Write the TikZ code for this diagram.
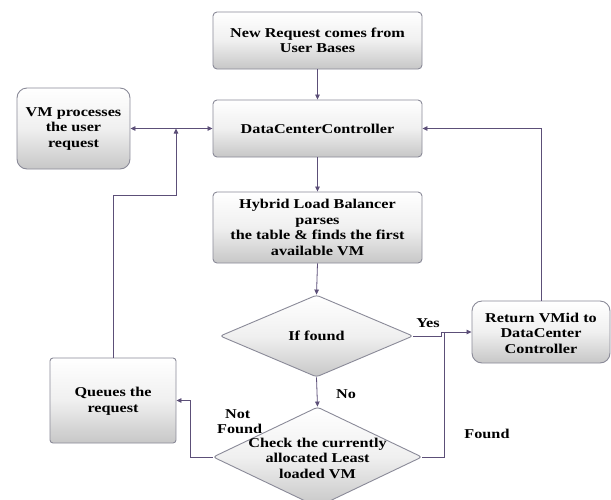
\documentclass[tikz,border=0pt]{standalone}
\usepackage{fontspec}
\setmainfont{Liberation Serif}[FakeStretch=1.2]
\usetikzlibrary{shapes.geometric,arrows.meta}
\definecolor{linec}{HTML}{5C4F78}
\definecolor{edgec}{HTML}{8A8A98}
\tikzset{
  boxfill/.style={top color=white, bottom color=black!22, middle color=black!6, draw=edgec, line width=0.9pt},
  procbox/.style={boxfill, rounded corners=4pt, minimum width=209pt, inner sep=0pt},
  roundbox/.style={boxfill, rounded corners=10pt, inner sep=0pt},
  decbox/.style={boxfill, diamond, rounded corners=3pt, inner sep=0pt},
  txt/.style={font=\fontsize{13.5}{15.5}\selectfont\bfseries, align=center, inner sep=0pt, text=black},
  arr/.style={draw=linec, line width=0.8pt, -{Triangle[length=5pt,width=4.5pt]}},
  ln/.style={draw=linec, line width=0.8pt},
  lbl/.style={font=\fontsize{13.5}{15.5}\selectfont\bfseries, inner sep=0pt, text=black}
}
\begin{document}
\begin{tikzpicture}[x=1pt,y=-1pt]
\clip (0,0) rectangle (611,499);
\fill[white] (0,0) rectangle (611,499);
% boxes
\node[procbox, minimum height=57pt] (nr) at (317.5,40.5) {};
\node[txt] (nrt) at (nr) {New Request comes from\\User Bases};
\node[procbox, minimum height=57pt] (dcc) at (317.5,128.5) {};
\node[txt] (dcct) at (dcc) {DataCenterController};
\node[roundbox, minimum width=113pt, minimum height=81pt] (vm) at (73.5,128.5) {};
\node[txt] (vmt) at (73.5,129) {VM processes\\the user\\request};
\node[procbox, minimum height=71pt] (hlb) at (317.5,227.5) {};
\node[txt] (hlbt) at (hlb) {Hybrid Load Balancer\\parses\\the table \& finds the first\\available VM};
\node[decbox, minimum width=193pt, minimum height=82pt] (ifd) at (316.5,336) {};
\node[txt] (ifdt) at (ifd) {If found};
\node[decbox, minimum width=209pt, minimum height=100pt] (chk) at (317.5,457) {};
\node[txt] (chkt) at (317.5,458) {Check the currently\\allocated Least\\loaded VM};
\node[boxfill, rounded corners=3pt, minimum width=126pt, minimum height=85pt, inner sep=0pt] (q) at (113,400.5) {};
\node[txt] (qt) at (113,401) {Queues the\\request};
\node[roundbox, minimum width=138pt, minimum height=62pt] (ret) at (541,332) {};
\node[txt] (rett) at (541,333) {Return VMid to\\DataCenter\\Controller};
% junction coordinates
\coordinate (j) at (176,128.5);
\coordinate (qb) at (176,195);
\coordinate (yj) at (441,332);
\coordinate (fj) at (444,332);
% connectors
\draw[arr] (nr.south) -- (dcc.north);
\draw[arr] (dcc.south) -- (hlb.north);
\draw[arr] (hlb.south) -- (ifd.north);
\draw[arr] (ifd.south) -- (chk.north);
\draw[arr] (q.north) |- (qb) -- (j);
\draw[arr] (j) -- (vm.east);
\draw[arr] (j) -- (dcc.west);
\draw[arr] (ret.north) |- (dcc.east);
\draw[ln] (ifd.east) -| (yj);
\draw[arr] (yj) -- (ret.west);
\draw[ln] (chk.east) -| (fj);
\draw[arr] (chk.west) -- ++(-22,0) |- (q.east);
% labels
\node[lbl] (yes) at (428,323) {Yes};
\node[lbl] (no) at (346,394) {No};
\node[lbl, align=left, anchor=west] (nf) at (217,421.5) {\hspace*{8pt}Not\\Found};
\node[lbl] (fd) at (487,434) {Found};
\end{tikzpicture}
\end{document}
